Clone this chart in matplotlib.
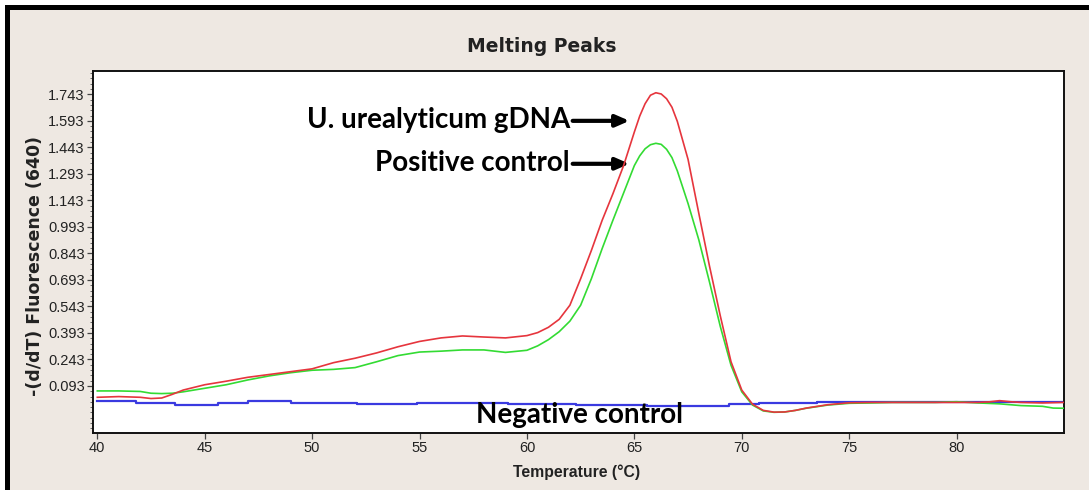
import matplotlib
matplotlib.use("Agg")
import matplotlib.pyplot as plt
import numpy as np
from matplotlib.ticker import FixedLocator

# ---------------- data ----------------
temp_red = [40, 41, 42, 42.5, 43, 43.5, 44, 45, 46, 47, 48, 49, 50, 51, 52, 53, 54, 55, 56, 57,
            58, 59, 60, 60.5, 61, 61.5, 62, 62.5, 63, 63.5, 64, 64.5, 65, 65.25, 65.5, 65.75, 66,
            66.25, 66.5, 66.75, 67, 67.5, 68, 68.5, 69, 69.5, 70, 70.5, 71, 71.5, 72, 72.5, 73,
            74, 75, 76, 77, 78, 79, 80, 81, 81.5, 82, 82.5, 83, 84, 85]
red_vals = [0.029, 0.033, 0.029, 0.022, 0.025, 0.046, 0.070, 0.100, 0.120, 0.142, 0.158, 0.174,
            0.190, 0.225, 0.250, 0.280, 0.315, 0.345, 0.365, 0.376, 0.370, 0.365, 0.378, 0.395,
            0.425, 0.470, 0.550, 0.700, 0.860, 1.030, 1.180, 1.340, 1.530, 1.620, 1.690, 1.738,
            1.752, 1.745, 1.718, 1.670, 1.590, 1.375, 1.070, 0.770, 0.490, 0.230, 0.070, -0.010,
            -0.045, -0.055, -0.054, -0.045, -0.032, -0.013, -0.002, 0.000, 0.000, 0.000, 0.000,
            0.000, 0.000, 0.003, 0.010, 0.004, 0.000, -0.003, 0.000]

temp_green = [40, 41, 42, 42.5, 43, 43.5, 44, 45, 46, 47, 48, 49, 50, 51, 52, 53, 54, 55, 56, 57,
              58, 59, 60, 60.5, 61, 61.5, 62, 62.5, 63, 63.5, 64, 64.5, 65, 65.25, 65.5, 65.75,
              66, 66.25, 66.5, 66.75, 67, 67.5, 68, 68.5, 69, 69.5, 70, 70.5, 71, 71.5, 72, 72.5,
              73, 74, 75, 76, 77, 78, 79, 80, 81, 82, 83, 84, 84.5, 85]
green_vals = [0.065, 0.065, 0.062, 0.052, 0.050, 0.052, 0.060, 0.080, 0.100, 0.127, 0.150, 0.168,
              0.182, 0.187, 0.197, 0.230, 0.265, 0.285, 0.290, 0.297, 0.297, 0.283, 0.295, 0.320,
              0.355, 0.400, 0.460, 0.550, 0.700, 0.870, 1.030, 1.185, 1.340, 1.395, 1.435, 1.458,
              1.466, 1.460, 1.432, 1.385, 1.310, 1.125, 0.920, 0.680, 0.430, 0.210, 0.060, -0.015,
              -0.048, -0.056, -0.054, -0.045, -0.033, -0.015, -0.005, -0.003, 0.000, 0.000, 0.000,
              0.004, -0.003, -0.008, -0.018, -0.022, -0.032, -0.033]

temp_blue = [40, 41.8, 43.6, 45.6, 47, 49, 52.1, 54.9, 59.1, 62.3, 65.6, 69.4, 70.8, 73.5, 85]
blue_vals = [0.008, -0.004, -0.012, -0.002, 0.007, -0.001, -0.009, -0.001, -0.008, -0.015,
             -0.022, -0.009, -0.004, 0.000, 0.000]

ytick_vals = [0.093, 0.243, 0.393, 0.543, 0.693, 0.843, 0.993, 1.143, 1.293, 1.443, 1.593, 1.743]
xtick_vals = [40, 45, 50, 55, 60, 65, 70, 75, 80]

title = "Melting Peaks"
xlabel = "Temperature (°C)"
ylabel = "-(d/dT) Fluorescence (640)"
label_red = "U. urealyticum gDNA"
label_green = "Positive control"
label_blue = "Negative control"

# ---------------- figure ----------------
W, H = 1089, 490
fig = plt.figure(figsize=(W / 100, H / 100), dpi=100)
fig.patch.set_facecolor("white")

# beige panel with thick black frame (screenshot look)
fig.patches.append(plt.Rectangle((7 / W, 0), 1 - 7 / W, (H - 7) / H, transform=fig.transFigure,
                                 facecolor="#EEE8E2", edgecolor="none", zorder=-2))
fig.patches.append(plt.Rectangle((5 / W, 0), 5 / W, (H - 5) / H, transform=fig.transFigure,
                                 facecolor="black", edgecolor="none", zorder=-1))
fig.patches.append(plt.Rectangle((5 / W, (H - 10) / H), 1 - 5 / W, 5 / H,
                                 transform=fig.transFigure,
                                 facecolor="black", edgecolor="none", zorder=-1))

ax = fig.add_axes([93 / W, (H - 433) / H, (1064 - 93) / W, (433 - 71) / H])
ax.set_zorder(2)
ax.set_facecolor("white")

ax.plot(temp_blue, blue_vals, color="#3A3AE0", lw=1.6, drawstyle="steps-post", zorder=2)
ax.plot(temp_green, green_vals, color="#33DB33", lw=1.2, zorder=3)
ax.plot(temp_red, red_vals, color="#E6353D", lw=1.2, zorder=4)

ax.set_xlim(39.8, 85.0)
ax.set_ylim(-0.173, 1.875)

ax.xaxis.set_major_locator(FixedLocator(xtick_vals))
ax.yaxis.set_major_locator(FixedLocator(ytick_vals))
ax.set_yticklabels([f"{v:.3f}" for v in ytick_vals])
ax.yaxis.set_minor_locator(FixedLocator(np.arange(-0.147, 1.87, 0.03)))

for lab in ax.get_xticklabels() + ax.get_yticklabels():
    lab.set_fontfamily("Liberation Sans")
    lab.set_fontsize(10.5)
    lab.set_color("#222222")
ax.tick_params(axis="both", which="major", direction="out", length=4, width=0.9,
               color="#444444", pad=2)
ax.tick_params(axis="y", which="minor", direction="out", length=2, width=0.7, color="#666666")
for sp in ax.spines.values():
    sp.set_linewidth(1.4)
    sp.set_color("#111111")

fig.text(542 / W, 1 - 47 / H, title, ha="center", va="center", fontsize=13.5,
         fontweight="bold", family="DejaVu Sans", color="#222222")
fig.text(577 / W, 1 - 472 / H, xlabel, ha="center", va="center", fontsize=11.3,
         fontweight="bold", family="Liberation Sans", color="#222222")
fig.text(35 / W, 1 - 266 / H, ylabel, ha="center", va="center", rotation=90, fontsize=12.5,
         fontweight="bold", family="DejaVu Sans", color="#222222")

# annotations
ann_font = dict(family="Lato", fontweight="bold", fontsize=20, color="black")
arrow_style = dict(arrowstyle="-|>,head_length=0.8,head_width=0.35", lw=3, color="black")
ax.annotate("", xy=(64.9, 1.593), xytext=(62.0, 1.593), arrowprops=arrow_style)
ax.annotate("", xy=(64.9, 1.35), xytext=(62.0, 1.35), arrowprops=arrow_style)
fig.text(570 / W, 1 - 120 / H, label_red, ha="right", va="center", **ann_font)
fig.text(570 / W, 1 - 163 / H, label_green, ha="right", va="center", **ann_font)
fig.text(580 / W, 1 - 415 / H, label_blue, ha="center", va="center", **ann_font)

fig.savefig("out.png", dpi=100, facecolor=fig.get_facecolor())
